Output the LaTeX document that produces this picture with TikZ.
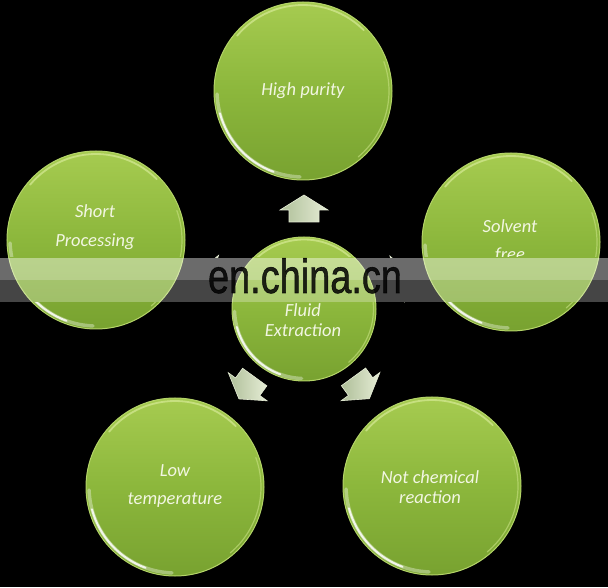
\documentclass[tikz,border=0pt]{standalone}
\usepackage{fontspec}
\setmainfont{Carlito}
\newfontfamily\wmfont[FakeBold=1.2]{Liberation Sans}
\usetikzlibrary{calc}
\definecolor{bubTop}{HTML}{A6CB50}
\definecolor{bubMid}{HTML}{8CB73C}
\definecolor{bubBot}{HTML}{78A230}
\definecolor{bubRim}{HTML}{B4D468}
\definecolor{txtCol}{HTML}{F2F6E2}
\definecolor{arrLight}{HTML}{E6EDD6}
\definecolor{arrDark}{HTML}{AEBE98}
\tikzset{
  bubble/.style={circle, minimum size=#1, inner sep=0pt, top color=bubTop, bottom color=bubBot, middle color=bubMid, draw=bubRim, line width=1pt},
  bubblefill/.style={top color=bubTop, bottom color=bubBot, middle color=bubMid, draw=bubRim, line width=1pt},
  lbl/.style={text=txtCol, font=\itshape\fontsize{18.5}{28}\selectfont, align=center, inner sep=0pt},
  lbltight/.style={lbl, font=\itshape\fontsize{18.5}{20}\selectfont},
  gleamwide/.style={white, opacity=0.35, line width=3.5pt, line cap=round},
  gleam/.style={white, opacity=0.85, line width=2pt, line cap=round},
  toprim/.style={draw={rgb,255:red,214;green,234;blue,150}, opacity=0.7, line width=1.8pt, line cap=round},
  siderim/.style={draw={rgb,255:red,200;green,225;blue,130}, opacity=0.6, line width=1.2pt, line cap=round},
  blockarrow/.pic={
    \path[left color=arrDark, right color=arrLight, draw=arrLight, line width=0.6pt]
      (13,0) -- (-2,24) -- (-2,15) -- (-14,15) -- (-14,-15) -- (-2,-15) -- (-2,-24) -- cycle;
  },
  wm/.style={text=black, text opacity=0.85, font=\wmfont\fontsize{48}{48}\selectfont, inner sep=0pt, anchor=base}
}
\begin{document}
\begin{tikzpicture}[x=1pt, y=1pt]
  \useasboundingbox (0,0) rectangle (608,587);
  \fill[black] (0,0) rectangle (608,587);

  % circles
  \node[bubble=178pt] (hp) at (303,496) {};
  \node[bubble=178pt] (sp) at (96,347) {};
  \node[bubble=178pt] (sf) at (511,345) {};
  \node[bubble=178pt] (lt) at (175,100) {};
  \node[bubble=178pt] (nc) at (432,101) {};
  \node[bubble=144pt] (fe) at (304,278) {};

  % rim highlights
  \foreach \n/\r in {hp/86,sp/86,sf/86,lt/86,nc/86,fe/69.5}{
    \draw[gleamwide] ($(\n.center)+(182:\r)$) arc[start angle=182, end angle=268, radius=\r];
    \draw[gleam] ($(\n.center)+(195:\r)$) arc[start angle=195, end angle=250, radius=\r];
    \draw[toprim] ($(\n.center)+(45:\r)$) arc[start angle=45, end angle=140, radius=\r];
    \draw[siderim] ($(\n.center)+(-50:\r)$) arc[start angle=-50, end angle=20, radius=\r];
  }

  % arrows
  \pic[rotate=90] at ($(fe.center)+(90:101)$) {blockarrow};
  \pic[rotate=161.6] at ($(fe.center)+(161.6:100)$) {blockarrow};
  \pic[rotate=17.9] at ($(fe.center)+(17.9:100)$) {blockarrow};
  \pic[rotate=234.1] at ($(fe.center)+(234.1:98)$) {blockarrow};
  \pic[rotate=-53.9] at ($(fe.center)+(-53.9:98)$) {blockarrow};

  % labels
  \node[lbl] (hpt) at (303,496) {High purity};
  \node[lbl, font=\itshape\fontsize{18.5}{29}\selectfont] (spt) at (95,360) {Short\\Processing};
  \node[lbl] (sft) at (510,346) {Solvent\\free};
  \node[lbl] (ltt) at (175,101) {Low\\temperature};
  \node[lbltight] (nct) at (430,100) {Not chemical\\reaction};
  \node[lbltight] (fet) at (303,267) {Fluid\\Extraction};

  % watermark band: hides what lies under it, shows the circles faded
  \begin{scope}
    \clip (0,285) rectangle (608,329);
    \fill[black] (0,285) rectangle (608,329);
    \foreach \x/\y/\r in {96/347/89, 511/345/89, 304/278/72}{
      \path[bubblefill] (\x,\y) circle[radius=\r];
    }
  \end{scope}
  \fill[white, opacity=0.42] (0,307) rectangle (608,329);
  \fill[white, opacity=0.27] (0,285) rectangle (608,307);
  \node[wm] (wmt) at (305,294) {\scalebox{0.79}[1]{en.china.cn}};
\end{tikzpicture}
\end{document}
